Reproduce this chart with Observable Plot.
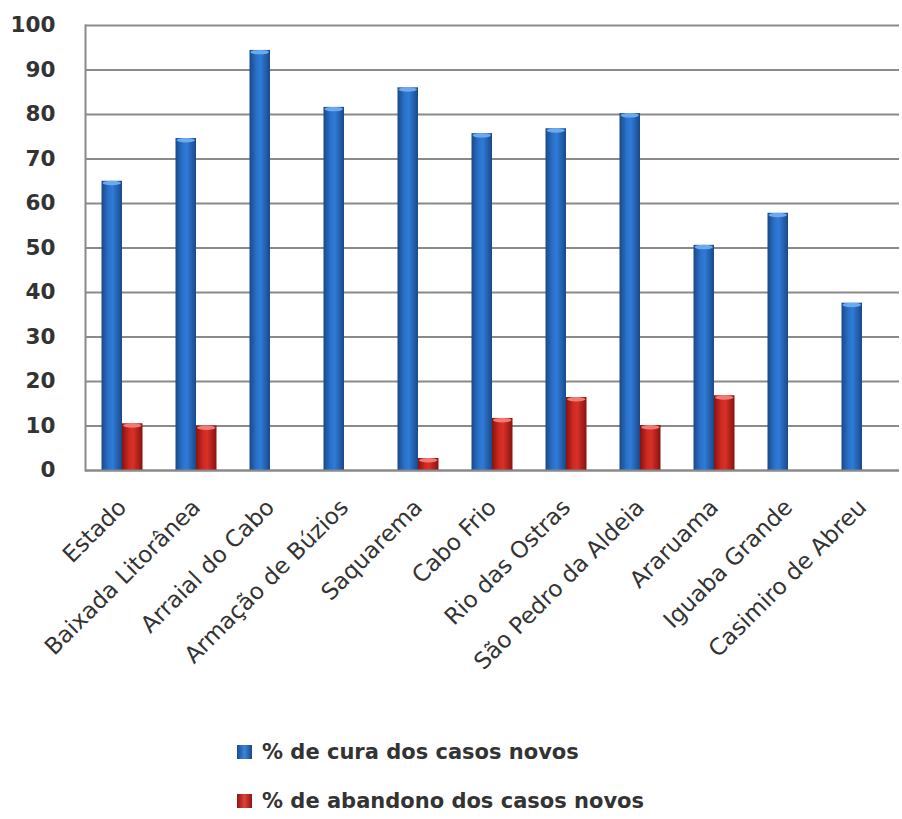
<!DOCTYPE html>
<html>
<head>
<meta charset="utf-8">
<script src="https://cdn.jsdelivr.net/npm/d3@7"></script>
<script src="https://cdn.jsdelivr.net/npm/@observablehq/plot@0.6"></script>
<style>
  html, body { margin: 0; padding: 0; background: #fff; }
  #wrap { position: relative; width: 902px; height: 819px; }
  #chart { position: absolute; left: 0; top: 0; }
  .legend-item { position: absolute; left: 237px; display: flex; align-items: center;
    font-family: "DejaVu Sans", sans-serif; font-weight: 700; font-size: 21px; color: #333; }
  .legend-item .sw { width: 15px; height: 14px; margin-right: 10px; }
  svg g[aria-label="y-axis tick label"] text, svg g[aria-label="y-axis"] text { font-weight: 700; font-size: 21.5px; }
</style>
</head>
<body>
<div id="wrap">
  <div id="chart"></div>
  <div class="legend-item" style="top:740px"><div class="sw" style="background:linear-gradient(90deg,#1a4a8f,#3a84d8,#1a4a8f)"></div>% de cura dos casos novos</div>
  <div class="legend-item" style="top:789px"><div class="sw" style="background:linear-gradient(90deg,#8e1512,#e2413a,#8e1512)"></div>% de abandono dos casos novos</div>
</div>
<script>
// Municipalities of the Baixada Litorânea region (plus state and regional totals)
const categories = [
  "Estado", "Baixada Litorânea", "Arraial do Cabo", "Armação de Búzios",
  "Saquarema", "Cabo Frio", "Rio das Ostras", "São Pedro da Aldeia",
  "Araruama", "Iguaba Grande", "Casimiro de Abreu"
];
// % de cura dos casos novos
const cura = [65, 74.6, 94.4, 81.6, 86, 75.7, 76.8, 80.2, 50.6, 57.8, 37.6];
// % de abandono dos casos novos (null where none was reported)
const abandono = [10.5, 10, null, null, 2.7, 11.7, 16.4, 10.1, 16.8, null, null];
const yTicks = [0, 10, 20, 30, 40, 50, 60, 70, 80, 90, 100];

const rows = categories.map((c, i) => ({ c, cura: cura[i], abandono: abandono[i] }));
const redRows = rows.filter(d => d.abandono != null);

const band = 74;          // width of each category band in px
const barW = 20.5;        // width of one cylinder
const side = band / 2 - barW;

const plot = Plot.plot({
  width: 902,
  height: 700,
  marginLeft: 85,
  marginRight: 3,
  marginTop: 25,
  marginBottom: 230,
  style: { fontFamily: "'DejaVu Sans', sans-serif", fontSize: "23px", color: "#333", background: "transparent" },
  x: { domain: categories, padding: 0, label: null, tickSize: 0, tickPadding: 33, tickRotate: -45 },
  y: { domain: [0, 100], ticks: yTicks, label: null, tickSize: 0, tickPadding: 30 },
  marks: [
    Plot.gridY(yTicks, { stroke: "#8a8a8a", strokeOpacity: 1, strokeWidth: 2 }),
    Plot.frame({ anchor: "left", stroke: "#8a8a8a", strokeWidth: 2 }),
    // blue cylinders: body and light top cap
    Plot.barY(rows, { x: "c", y: "cura", fill: "url(#gBlue)", insetLeft: side, insetRight: band / 2 }),
    Plot.barY(rows, { x: "c", y1: d => d.cura - 1, y2: "cura", fill: "#6caaf0", insetLeft: side + 1, insetRight: band / 2 + 1, rx: 9, ry: 2.5 }),
    // red cylinders: body and light top cap
    Plot.barY(redRows, { x: "c", y: "abandono", fill: "url(#gRed)", insetLeft: band / 2, insetRight: side }),
    Plot.barY(redRows, { x: "c", y1: d => d.abandono - 1, y2: "abandono", fill: "#f07a74", insetLeft: band / 2 + 1, insetRight: side + 1, rx: 9, ry: 2.5 }),
    Plot.ruleY([0], { stroke: "#8a8a8a", strokeWidth: 2 })
  ]
});

// horizontal gradients that give the bars their rounded, cylindrical shading
const ns = "http://www.w3.org/2000/svg";
const defs = document.createElementNS(ns, "defs");
function grad(id, stops) {
  const g = document.createElementNS(ns, "linearGradient");
  g.setAttribute("id", id);
  g.setAttribute("x1", "0"); g.setAttribute("x2", "1"); g.setAttribute("y1", "0"); g.setAttribute("y2", "0");
  stops.forEach(([o, c]) => {
    const s = document.createElementNS(ns, "stop");
    s.setAttribute("offset", o); s.setAttribute("stop-color", c);
    g.appendChild(s);
  });
  defs.appendChild(g);
}
grad("gBlue", [[0, "#1a4888"], [0.35, "#2a72cc"], [0.55, "#2f7bd6"], [1, "#1a4888"]]);
grad("gRed", [[0, "#861310"], [0.35, "#d02a22"], [0.55, "#d83028"], [1, "#861310"]]);
plot.insertBefore(defs, plot.firstChild);

document.getElementById("chart").appendChild(plot);
</script>
</body>
</html>
